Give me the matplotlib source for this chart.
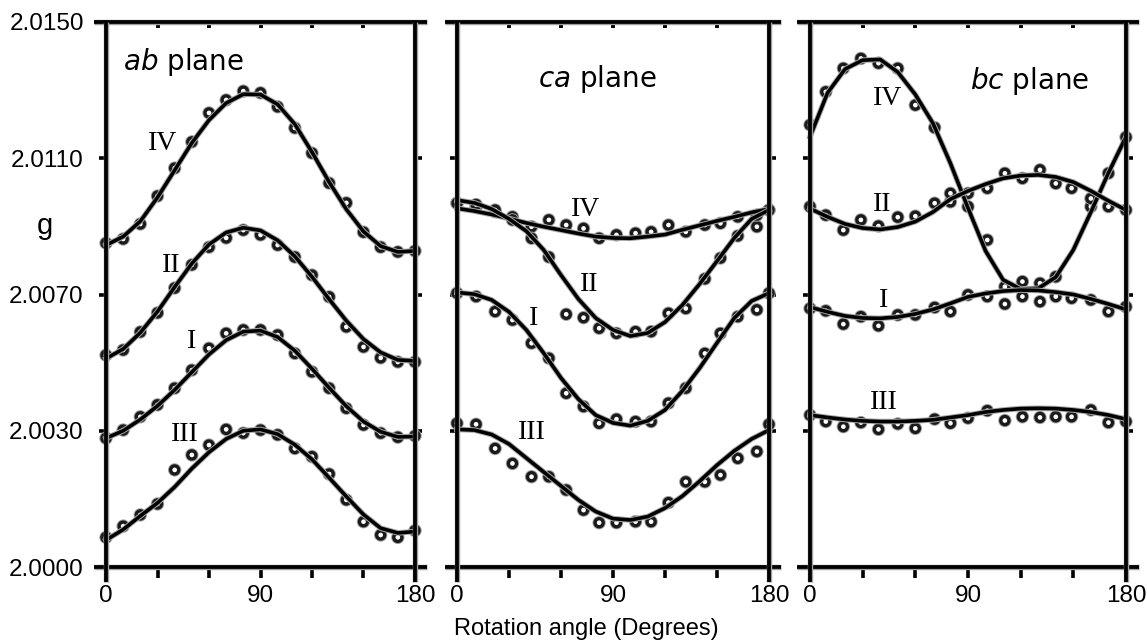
import numpy as np
import matplotlib
matplotlib.use("Agg")
import matplotlib.pyplot as plt
import matplotlib.patheffects as pe
from matplotlib.ticker import FixedLocator, NullFormatter, FixedFormatter

# ---------------- data ----------------
FIT_ANG = [0, 10, 20, 30, 40, 50, 60, 70, 80, 90, 100, 110, 120, 130, 140, 150, 160, 170, 180]
ANG_AB = [0, 10, 20, 30, 40, 50, 60, 70, 80, 90, 100, 110, 120, 130, 140, 150, 160, 170, 180]
ANG_CA = [0, 11, 22, 32, 43, 53, 63, 73, 82, 92, 103, 112, 122, 132, 143, 152, 162, 173, 180]
ANG_BC = [0, 9, 19, 29, 39, 50, 60, 71, 80, 90, 101, 111, 121, 131, 140, 149, 160, 170, 180]

# ab plane
ab_IV_pts = [2.00851, 2.00863, 2.00907, 2.00989, 2.01071, 2.01148, 2.01233, 2.01271, 2.01297, 2.01292,
             2.01251, 2.01189, 2.01115, 2.01027, 2.00969, 2.00883, 2.00839, 2.00825, 2.00828]
ab_IV_fit = [2.00845, 2.00870, 2.00915, 2.00985, 2.01065, 2.01145, 2.01212, 2.01262, 2.01288, 2.01287,
             2.01258, 2.01200, 2.01118, 2.01030, 2.00950, 2.00885, 2.00842, 2.00825, 2.00828]
ab_II_pts = [2.00522, 2.00537, 2.00590, 2.00646, 2.00719, 2.00787, 2.00839, 2.00866, 2.00889, 2.00875,
             2.00845, 2.00810, 2.00757, 2.00693, 2.00605, 2.00546, 2.00514, 2.00502, 2.00502]
ab_II_fit = [2.00512, 2.00540, 2.00588, 2.00650, 2.00722, 2.00791, 2.00847, 2.00882, 2.00896, 2.00888,
             2.00859, 2.00812, 2.00752, 2.00686, 2.00623, 2.00569, 2.00530, 2.00508, 2.00505]
ab_I_pts = [2.00278, 2.00302, 2.00341, 2.00376, 2.00425, 2.00478, 2.00542, 2.00586, 2.00596, 2.00596,
            2.00581, 2.00527, 2.00473, 2.00425, 2.00366, 2.00317, 2.00293, 2.00281, 2.00285]
ab_I_fit = [2.00278, 2.00300, 2.00333, 2.00373, 2.00420, 2.00472, 2.00524, 2.00566, 2.00591, 2.00594,
            2.00575, 2.00535, 2.00482, 2.00426, 2.00372, 2.00327, 2.00297, 2.00282, 2.00283]
ab_III_pts = [1.99987, 2.00020, 2.00053, 2.00085, 2.00185, 2.00229, 2.00258, 2.00304, 2.00293, 2.00302,
              2.00288, 2.00248, 2.00224, 2.00173, 2.00097, 2.00033, 1.99994, 1.99987, 2.00007]
ab_III_fit = [1.99979, 2.00010, 2.00050, 2.00088, 2.00135, 2.00189, 2.00237, 2.00276, 2.00300, 2.00304,
              2.00290, 2.00259, 2.00216, 2.00162, 2.00107, 2.00054, 2.00014, 2.00000, 2.00004]

# ca plane
ca_IV_pts = [2.00968, 2.00957, 2.00943, 2.00928, 2.00899, 2.00919, 2.00904, 2.00894, 2.00865, 2.00875,
             2.00880, 2.00884, 2.00904, 2.00884, 2.00904, 2.00909, 2.00928, 2.00899, 2.00948]
ca_IV_fit = [2.00953, 2.00945, 2.00935, 2.00923, 2.00910, 2.00899, 2.00889, 2.00879, 2.00870, 2.00866,
             2.00865, 2.00870, 2.00876, 2.00890, 2.00903, 2.00916, 2.00928, 2.00941, 2.00951]
ca_II_pts = [2.00968, 2.00964, 2.00948, 2.00919, 2.00865, 2.00810, 2.00642, 2.00632, 2.00601, 2.00586,
             2.00591, 2.00591, 2.00645, 2.00659, 2.00746, 2.00807, 2.00872, 2.00933, 2.00948]
ca_II_fit = [2.00977, 2.00969, 2.00951, 2.00922, 2.00886, 2.00831, 2.00757, 2.00687, 2.00631, 2.00596,
             2.00578, 2.00587, 2.00619, 2.00669, 2.00731, 2.00798, 2.00866, 2.00922, 2.00948]
ca_I_pts = [2.00704, 2.00694, 2.00650, 2.00625, 2.00557, 2.00513, 2.00410, 2.00371, 2.00322, 2.00334,
            2.00327, 2.00327, 2.00381, 2.00425, 2.00527, 2.00586, 2.00635, 2.00655, 2.00704]
ca_I_fit = [2.00706, 2.00701, 2.00684, 2.00649, 2.00596, 2.00528, 2.00455, 2.00393, 2.00346, 2.00323,
            2.00315, 2.00329, 2.00361, 2.00417, 2.00484, 2.00558, 2.00631, 2.00681, 2.00704]
ca_III_pts = [2.00322, 2.00319, 2.00248, 2.00204, 2.00165, 2.00165, 2.00126, 2.00067, 2.00030, 2.00030,
              2.00033, 2.00033, 2.00089, 2.00150, 2.00150, 2.00170, 2.00219, 2.00239, 2.00319]
ca_III_fit = [2.00304, 2.00302, 2.00289, 2.00261, 2.00220, 2.00179, 2.00138, 2.00097, 2.00063, 2.00042,
              2.00038, 2.00048, 2.00073, 2.00108, 2.00152, 2.00199, 2.00241, 2.00276, 2.00302]

# bc plane
bc_IV_pts = [2.01198, 2.01295, 2.01364, 2.01393, 2.01379, 2.01364, 2.01256, 2.01190, 2.00972, 2.00958,
             2.00860, 2.00723, 2.00738, 2.00733, 2.00752, np.nan, 2.00958, 2.01056, 2.01162]
bc_IV_fit = [2.01163, 2.01292, 2.01362, 2.01388, 2.01390, 2.01353, 2.01287, 2.01203, 2.01085, 2.00954,
             2.00828, 2.00743, 2.00716, 2.00718, 2.00751, 2.00831, 2.00942, 2.01057, 2.01163]
bc_II_pts = [2.00958, 2.00933, 2.00889, 2.00919, 2.00901, 2.00927, 2.00930, 2.00968, 2.00997, 2.00997,
             2.01012, 2.01056, 2.01041, 2.01066, 2.01026, 2.01012, 2.00982, 2.00958, 2.00948]
bc_II_fit = [2.00952, 2.00928, 2.00907, 2.00895, 2.00891, 2.00898, 2.00914, 2.00942, 2.00980, 2.01004,
             2.01024, 2.01041, 2.01049, 2.01051, 2.01045, 2.01030, 2.01004, 2.00975, 2.00948]
bc_I_pts = [2.00659, 2.00652, 2.00613, 2.00635, 2.00608, 2.00640, 2.00640, 2.00662, 2.00650, 2.00699,
            2.00694, 2.00672, 2.00694, 2.00679, 2.00694, 2.00689, 2.00684, 2.00650, 2.00664]
bc_I_fit = [2.00663, 2.00649, 2.00637, 2.00631, 2.00630, 2.00634, 2.00643, 2.00656, 2.00674, 2.00693,
            2.00703, 2.00710, 2.00713, 2.00712, 2.00707, 2.00700, 2.00687, 2.00672, 2.00656]
bc_III_pts = [2.00346, 2.00327, 2.00312, 2.00324, 2.00304, 2.00320, 2.00307, 2.00334, 2.00322, 2.00337,
              2.00359, 2.00330, 2.00341, 2.00339, 2.00341, 2.00341, 2.00361, 2.00324, 2.00327]
bc_III_fit = [2.00346, 2.00339, 2.00333, 2.00329, 2.00327, 2.00327, 2.00329, 2.00332, 2.00339, 2.00346,
              2.00355, 2.00361, 2.00365, 2.00366, 2.00365, 2.00361, 2.00355, 2.00346, 2.00334]

Y_TICK_LABELS = ["2.0000", "2.0030", "2.0070", "2.0110", "2.0150"]
X_TICK_LABELS = ["0", "90", "180"]
SERIES_NAMES = ["IV", "II", "I", "III"]
PLANE_ITALIC = ["ab", "ca", "bc"]

# label anchor positions (angle, g) for the roman numerals
LABEL_POS = {
    0: [(33, 2.01142), (38, 2.00784), (50, 2.00563), (46, 2.00290)],
    1: [(74, 2.00951), (76, 2.00728), (44, 2.00631), (43, 2.00296)],
    2: [(44, 2.01274), (41, 2.00963), (42, 2.00681), (42, 2.00384)],
}
TITLE_POS = [(0.055, 0.912), (0.26, 0.880), (0.506, 0.877)]

# ---------------- figure ----------------
plt.rcParams["mathtext.fontset"] = "dejavusans"
fig = plt.figure(figsize=(11.47, 6.41), dpi=100)

YMIN, YMAX = 1.9990, 2.0150
bottom, height = 1 - 567 / 641, 545 / 641
lefts = [106 / 1147, 457 / 1147, 810 / 1147]
widths = [309 / 1147, 312 / 1147, 316 / 1147]

panels = [
    (ANG_AB, [ab_IV_pts, ab_II_pts, ab_I_pts, ab_III_pts], [ab_IV_fit, ab_II_fit, ab_I_fit, ab_III_fit]),
    (ANG_CA, [ca_IV_pts, ca_II_pts, ca_I_pts, ca_III_pts], [ca_IV_fit, ca_II_fit, ca_I_fit, ca_III_fit]),
    (ANG_BC, [bc_IV_pts, bc_II_pts, bc_I_pts, bc_III_pts], [bc_IV_fit, bc_II_fit, bc_I_fit, bc_III_fit]),
]

TICKFONT = dict(family="Liberation Sans", size=17.5)
LW = 2.7

for k, (angs, pts_list, fit_list) in enumerate(panels):
    ax = fig.add_axes([lefts[k], bottom, widths[k], height])
    ax.set_xlim(0, 180)
    ax.set_ylim(YMIN, YMAX)
    for s in ax.spines.values():
        s.set_visible(False)

    # frame with overshooting lines
    for yv in (YMIN, YMAX):
        ax.axhline(yv, xmin=-0.04, xmax=1.04, color="black", lw=LW, clip_on=False, zorder=5,
                   solid_capstyle="butt",
                   path_effects=[pe.Stroke(linewidth=LW + 1.2, foreground="#a0a0a0"), pe.Normal()])
    for xv in (0, 180):
        ax.axvline(xv, ymin=-0.028, ymax=1.0, color="black", lw=LW, clip_on=False, zorder=5,
                   solid_capstyle="butt",
                   path_effects=[pe.Stroke(linewidth=LW + 1.2, foreground="#a0a0a0"), pe.Normal()])

    # data
    for pts, fit in zip(pts_list, fit_list):
        ax.plot(angs, pts, ls="none", marker="o", ms=5.8, mfc="white", mec="#1a1a1a", mew=2.4,
                clip_on=False, zorder=3,
                path_effects=[pe.Stroke(linewidth=3.8, foreground="#9c9c9c"), pe.Normal()])
        ax.plot(FIT_ANG, fit, color="black", lw=2.6, clip_on=False, zorder=4,
                solid_joinstyle="round",
                path_effects=[pe.Stroke(linewidth=4.0, foreground="#a8a8a8"), pe.Normal()])

    # y ticks
    yt = np.linspace(YMIN, YMAX, 5)
    ax.yaxis.set_major_locator(FixedLocator(yt))
    ax.tick_params(axis="y", which="major", left=True, right=True, direction="out",
                   length=5, width=2.6, pad=11)
    if k == 0:
        ax.yaxis.set_major_formatter(FixedFormatter(Y_TICK_LABELS))
        for t in ax.get_yticklabels():
            t.set_fontfamily(TICKFONT["family"])
            t.set_fontsize(TICKFONT["size"])
    else:
        ax.yaxis.set_major_formatter(NullFormatter())

    # x ticks (bottom)
    ax.xaxis.set_major_locator(FixedLocator([0, 90, 180]))
    ax.xaxis.set_minor_locator(FixedLocator([30, 60, 120, 150]))
    ax.xaxis.set_major_formatter(FixedFormatter(X_TICK_LABELS))
    ax.tick_params(axis="x", which="both", bottom=True, top=False, direction="out",
                   length=8, width=2.6, pad=5)
    for t in ax.get_xticklabels():
        t.set_fontfamily(TICKFONT["family"])
        t.set_fontsize(TICKFONT["size"])

    # top inner tick dots
    sec = ax.secondary_xaxis("top")
    sec.set_xticks([30, 60, 90, 120, 150])
    sec.tick_params(direction="in", length=4, width=2.8, labeltop=False)
    sec.spines["top"].set_visible(False)

    # roman labels
    for name, (xa, ya) in zip(SERIES_NAMES, LABEL_POS[k]):
        ax.text(xa, ya, name, ha="center", va="center", fontsize=20,
                family="Liberation Serif", zorder=6)

    # plane title
    tx, ty = TITLE_POS[k]
    ax.text(tx, ty, r"$\it{" + PLANE_ITALIC[k] + r"}$ plane", transform=ax.transAxes,
            ha="left", va="baseline", fontsize=20, family="DejaVu Sans")

fig.text(45 / 1147, 1 - 226 / 641, "g", ha="center", va="center", fontsize=21,
         family="Liberation Sans")
fig.text(586 / 1147, 1 - 629 / 641, "Rotation angle (Degrees)", ha="center", va="center",
         fontsize=17, family="Liberation Sans")

fig.savefig("out.png", dpi=100, facecolor="white")
